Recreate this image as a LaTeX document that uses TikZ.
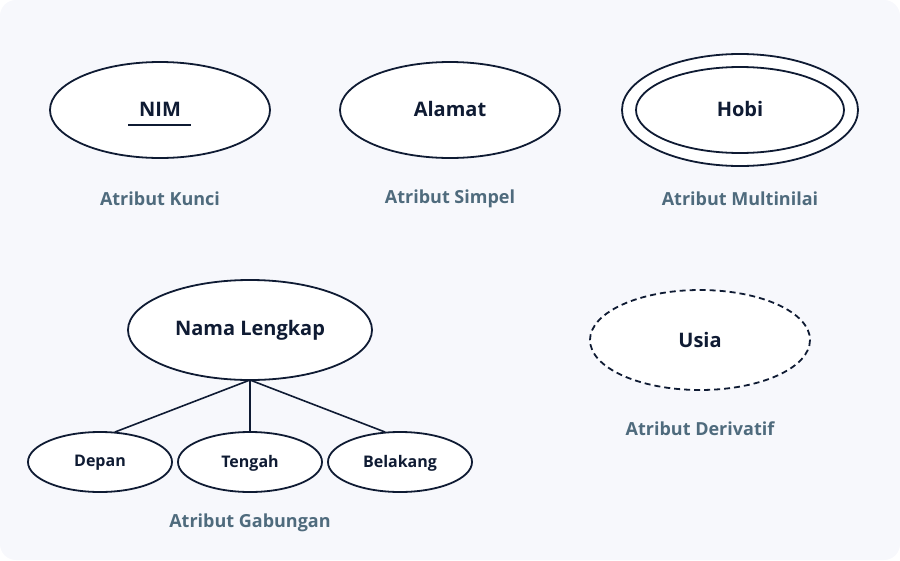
\documentclass[tikz,border=0pt]{standalone}
\usepackage{fontspec}
\setmainfont{Open Sans}
\definecolor{ink}{HTML}{0F1B33}
\definecolor{cap}{HTML}{4F6B7D}
\definecolor{bg}{HTML}{F7F8FC}
\begin{document}
\begin{tikzpicture}[x=1pt,y=-1pt,
  big/.style={font=\bfseries\fontsize{20}{24}\selectfont,text=ink},
  small/.style={font=\bfseries\fontsize{16}{19}\selectfont,text=ink},
  capt/.style={font=\bfseries\fontsize{18}{21}\selectfont,text=cap},
  link/.style={draw=ink,line width=1.6pt}]
\useasboundingbox (0,0) rectangle (900,560);
\fill[bg,rounded corners=16pt] (0,0) rectangle (900,560);
\draw[ink,line width=1.8pt,fill=white] (160,110) ellipse [x radius=110,y radius=48];
\node[big] (nim) at (160,109) {NIM};
\draw[ink,line width=1.6pt] (128,125) -- (191,125);
\draw[ink,line width=1.8pt,fill=white] (450,110) ellipse [x radius=110,y radius=48];
\node[big] (alamat) at (450,109) {Alamat};
\draw[ink,line width=1.8pt,fill=white] (740,110) ellipse [x radius=118,y radius=56];
\draw[ink,line width=1.8pt] (740,110) ellipse [x radius=104,y radius=43];
\node[big] (hobi) at (740,109) {Hobi};
\node[capt] (c1) at (160,199) {Atribut Kunci};
\node[capt] (c2) at (450,199) {Atribut Simpel};
\node[capt] (c3) at (740,199) {Atribut Multinilai};
\coordinate (nb) at (250,380);
\coordinate (dt) at (115,432);
\coordinate (tt) at (250,432);
\coordinate (bt) at (385,432);
\draw[link] (nb) -- (dt); \draw[link] (nb) -- (tt); \draw[link] (nb) -- (bt);
\draw[ink,line width=1.8pt,fill=white] (250,330) ellipse [x radius=122,y radius=50];
\node[big] (nama) at (250,330) {Nama Lengkap};
\foreach \x/\t/\n in {100/Depan/dep,250/Tengah/ten,400/Belakang/bel}{
  \draw[ink,line width=1.8pt,fill=white] (\x,462) ellipse [x radius=72,y radius=30];
  \node[small] (\n) at (\x,463) {\t};}
\node[capt] (c4) at (250,523) {Atribut Gabungan};
\draw[ink,line width=1.8pt,fill=white,dash pattern=on 6pt off 4pt] (700,340) ellipse [x radius=110,y radius=50];
\node[big] (usia) at (700,340) {Usia};
\node[capt] (c5) at (700,429) {Atribut Derivatif};
\end{tikzpicture}
\end{document}
